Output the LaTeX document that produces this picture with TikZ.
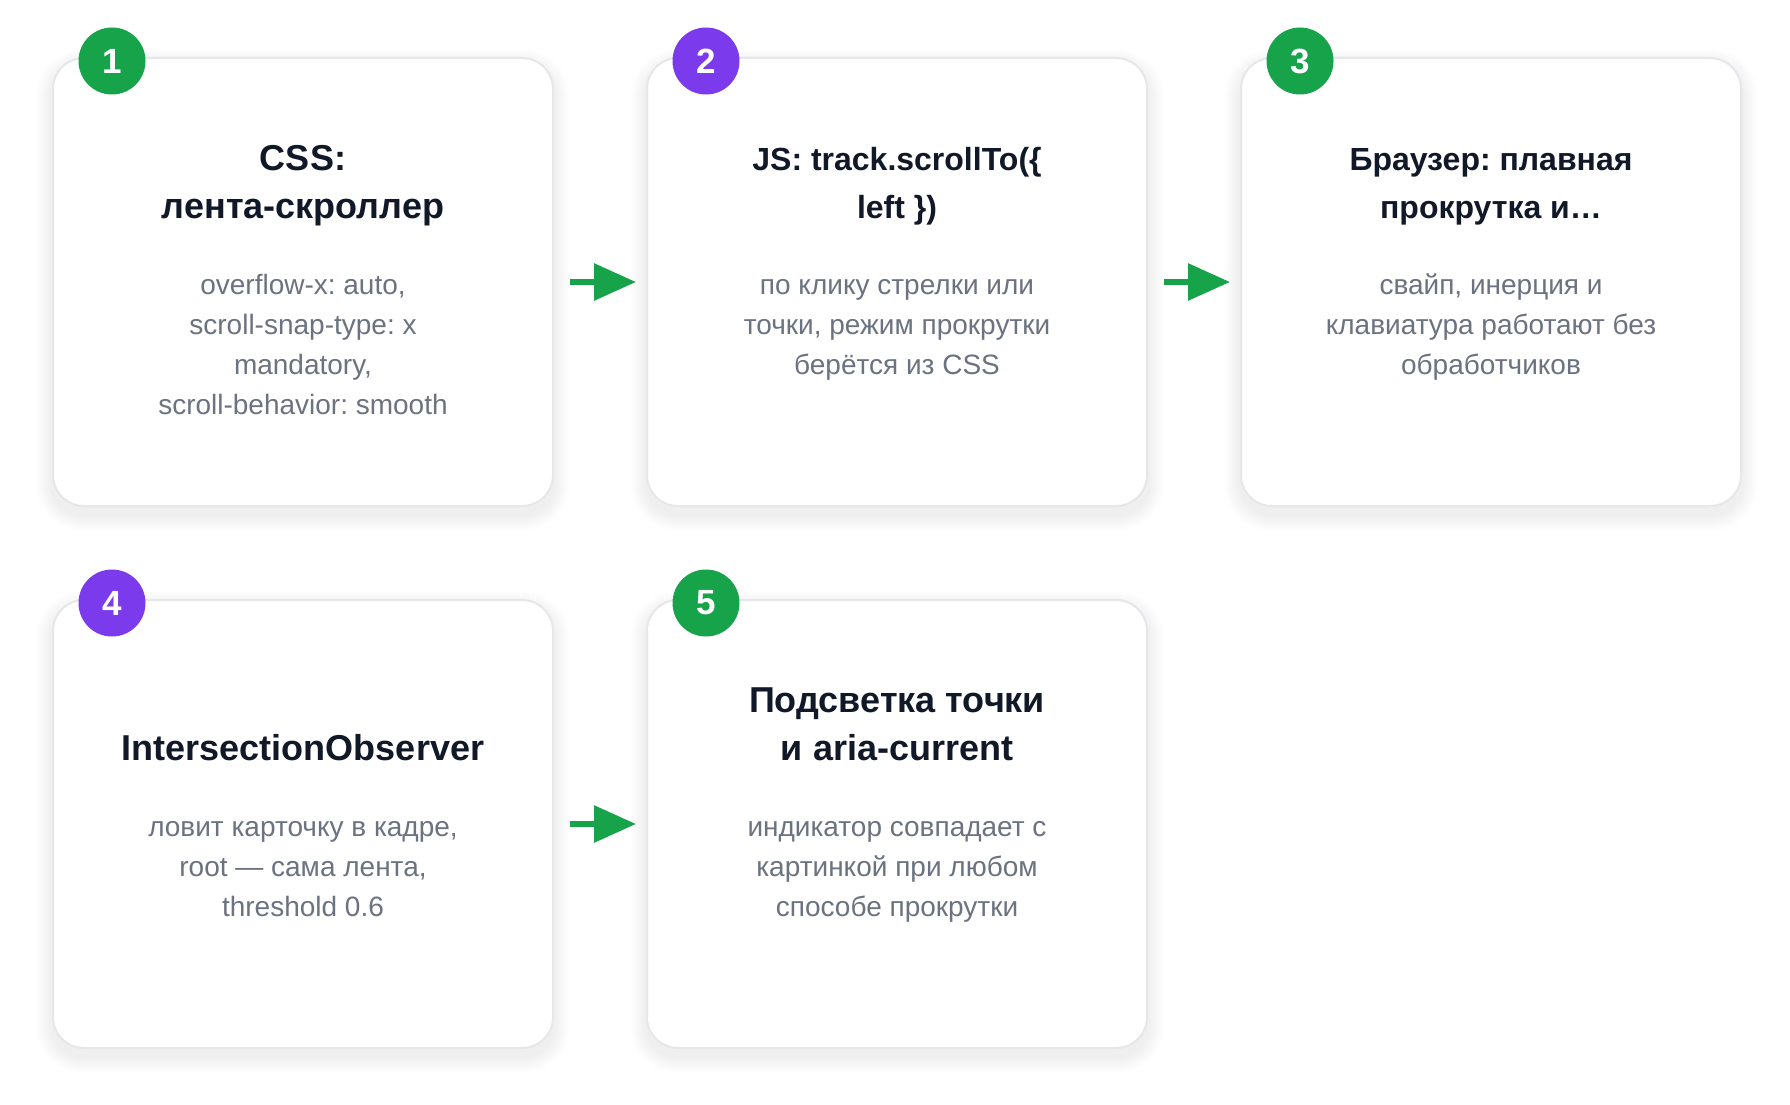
\documentclass[tikz,border=0pt]{standalone}
\usepackage{fontspec}
\setmainfont{Liberation Sans}
\usetikzlibrary{arrows.meta,positioning,backgrounds}
\definecolor{stepgreen}{HTML}{16A34A}
\definecolor{steppurple}{HTML}{7C3AED}
\definecolor{cardline}{HTML}{E5E7EB}
\definecolor{titleink}{HTML}{111827}
\definecolor{textink}{HTML}{6B7280}

\begin{document}
\frenchspacing
\begin{tikzpicture}[x=1pt,y=-1pt,
  card/.style={draw=cardline, line width=2pt, fill=white, rounded corners=31pt,
    minimum width=500pt, minimum height=448pt, inner sep=0pt},
  badge/.style={circle, fill=#1, minimum size=67pt, inner sep=0pt, text=white,
    font=\fontsize{35}{40}\selectfont\bfseries},
  cardtitle/.style={align=center, anchor=base, text=titleink, inner sep=0pt,
    font=\fontsize{36}{48}\selectfont\bfseries},
  longtitle/.style={cardtitle, font=\fontsize{32}{48}\selectfont\bfseries},
  carddesc/.style={align=center, anchor=base, text=textink, inner sep=0pt,
    font=\fontsize{28}{40}\selectfont},
  flow/.style={draw=stepgreen, line width=6pt, -{Triangle[length=42pt,width=36pt]},
    shorten <=16pt, shorten >=10pt}]
\useasboundingbox (0,0) rectangle (1790,1105);

\node[card] (c1) at (303,282) {};
\node[card, right=92pt of c1] (c2) {};
\node[card, right=92pt of c2] (c3) {};
\node[card, below=92pt of c1] (c4) {};
\node[card, right=92pt of c4] (c5) {};

\begin{scope}[on background layer]
\fill[white] (0,0) rectangle (1790,1105);
\foreach \c in {c1,c2,c3,c4,c5}
  \foreach \s in {1,...,16}{
    \pgfmathsetmacro\r{31+\s}
    \fill[black, opacity=0.0045, rounded corners=\r pt]
      ([shift={(-\s,8-\s)}]\c.north west) rectangle ([shift={(\s,8+\s)}]\c.south east);
  }
\end{scope}

\node[badge=stepgreen] (n1) at ([xshift=60pt,yshift=-4pt]c1.north west) {1};
\node[badge=steppurple] (n2) at ([xshift=60pt,yshift=-4pt]c2.north west) {2};
\node[badge=stepgreen] (n3) at ([xshift=60pt,yshift=-4pt]c3.north west) {3};
\node[badge=steppurple] (n4) at ([xshift=60pt,yshift=-4pt]c4.north west) {4};
\node[badge=stepgreen] (n5) at ([xshift=60pt,yshift=-4pt]c5.north west) {5};

\node[cardtitle] (t1) at ([yshift=-161pt]c1.north) {CSS:\\лента-скроллер};
\node[longtitle] (t2) at ([yshift=-161pt]c2.north) {JS: track.scrollTo(\{\\left \})};
\node[longtitle] (t3) at ([yshift=-161pt]c3.north) {Браузер: плавная\\прокрутка и…};
\node[cardtitle] (t4) at ([yshift=-161pt]c4.north) {IntersectionObserver};
\node[cardtitle] (t5) at ([yshift=-161pt]c5.north) {Подсветка точки\\и aria-current};

\node[carddesc] (d1) at ([yshift=-357pt]c1.north) {overflow-x: auto,\\scroll-snap-type: x\\mandatory,\\scroll-behavior: smooth};
\node[carddesc] (d2) at ([yshift=-317pt]c2.north) {по клику стрелки или\\точки, режим прокрутки\\берётся из CSS};
\node[carddesc] (d3) at ([yshift=-317pt]c3.north) {свайп, инерция и\\клавиатура работают без\\обработчиков};
\node[carddesc] (d4) at ([yshift=-317pt]c4.north) {ловит карточку в кадре,\\root — сама лента,\\threshold 0.6};
\node[carddesc] (d5) at ([yshift=-317pt]c5.north) {индикатор совпадает с\\картинкой при любом\\способе прокрутки};

\draw[flow] (c1) -- (c2);
\draw[flow] (c2) -- (c3);
\draw[flow] (c4) -- (c5);
\end{tikzpicture}
\end{document}
